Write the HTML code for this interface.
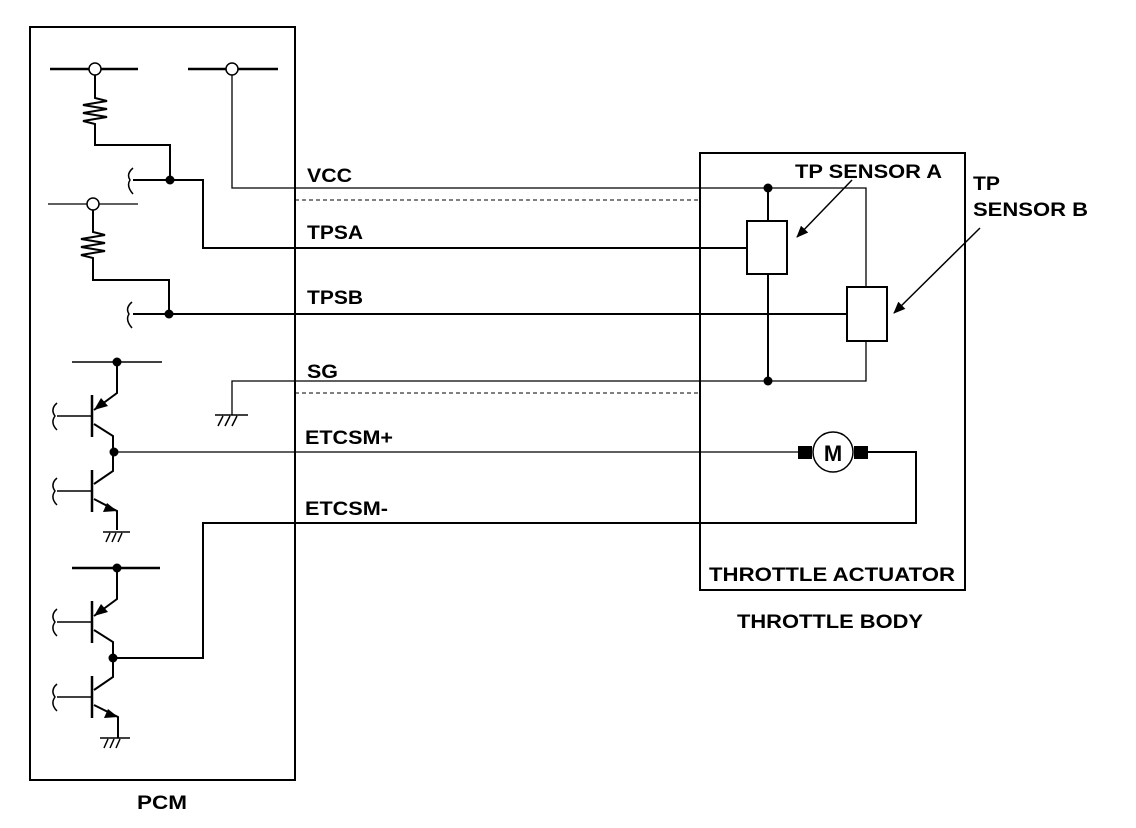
<!DOCTYPE html>
<html><head><style>body{margin:0;background:#fff}svg{display:block}text{font-family:"Liberation Sans",Arial,sans-serif;font-weight:bold;font-size:19px;fill:#000}</style></head>
<body>
<svg width="1136" height="828" viewBox="0 0 1136 828" xmlns="http://www.w3.org/2000/svg">
<defs><marker id="ar" markerWidth="12" markerHeight="10" refX="11" refY="5" orient="auto" markerUnits="userSpaceOnUse"><path d="M0,0L12,5L0,10Z" fill="#000"/></marker></defs>
<g fill="none" stroke="#000">
<rect x="30" y="27" width="265" height="753" stroke-width="2"/>
<rect x="700" y="153" width="265" height="437" stroke-width="2"/>
<path d="M50 69H138M188 69H278" stroke-width="2.5"/>
<path d="M48 204H138" stroke-width="1.2"/>
<circle cx="95" cy="69" r="6" fill="#fff" stroke-width="1.5"/>
<circle cx="232" cy="69" r="6" fill="#fff" stroke-width="1.5"/>
<circle cx="93" cy="204" r="6" fill="#fff" stroke-width="1.5"/>
<path d="M95 75V98L107 101L83 105L107 109L83 113L107 117L83 121L95 124V145H170V180H203V248H747" stroke-width="2"/>
<path d="M93 210V232L105 235L81 239L105 243L81 247L105 251L81 255L93 258V280H169V314H847" stroke-width="2"/>
<path d="M133 180H170M133 314H169" stroke-width="2"/>
<path d="M133 168Q126 174 130 180Q126 186 133 194M132 302Q125 308 129 314Q125 320 132 328" stroke-width="1.5"/>
<path d="M232 75V188H866V287M866 341V381H232V415" stroke-width="1.3"/>
<path d="M295 200H700M295 393H700" stroke-width="1" stroke-dasharray="4,3"/>
<path d="M215 415H248M218 426L223 416M225 426L230 416M232 426L237 416" stroke-width="1.5"/>
<path d="M768 188V221M768 274V381" stroke-width="2"/>
<rect x="747" y="221" width="40" height="53" stroke-width="2"/>
<rect x="847" y="287" width="40" height="54" stroke-width="2"/>
<path d="M72 362H162" stroke-width="1.5"/>
<path d="M117 362V393L94 410" stroke-width="2"/>
<path d="M92 395V437M92 470V512" stroke-width="2.5"/>
<path d="M57 416H92M57 491H92" stroke-width="1.5"/>
<path d="M94 424L113 436V471L94 484M94 499L117 511V530" stroke-width="2"/>
<path d="M103 532H130M106 542L110 533M112 542L116 533M118 542L122 533" stroke-width="1.5"/>
<path d="M114 452H798" stroke-width="1.3"/>
<path d="M72 568H160" stroke-width="2.5"/>
<path d="M117 568V599L94 616" stroke-width="2"/>
<path d="M92 601V643M92 676V718" stroke-width="2.5"/>
<path d="M57 622H92M57 697H92" stroke-width="1.5"/>
<path d="M94 630L113 642V677L94 690M94 705L118 717V738" stroke-width="2"/>
<path d="M100 738H130M104 748L108 739M110 748L114 739M116 748L120 739" stroke-width="1.5"/>
<path d="M113 658H203V523H916V452H868" stroke-width="2"/>
<path d="M57 403Q50 409 55 416Q50 423 57 430M57 478Q50 484 55 491Q50 498 57 505M57 609Q50 615 55 622Q50 629 57 636M57 684Q50 690 55 697Q50 704 57 711" stroke-width="1.5"/>
<circle cx="833" cy="452" r="20" fill="#fff" stroke-width="1.5"/>
<path d="M852 180L797 237" stroke-width="1.5" marker-end="url(#ar)"/>
<path d="M980 228L894 313" stroke-width="1.5" marker-end="url(#ar)"/>
</g>
<g fill="#000">
<circle cx="170" cy="180" r="4.5"/><circle cx="169" cy="314" r="4.5"/>
<circle cx="768" cy="188" r="4.5"/><circle cx="768" cy="381" r="4.5"/>
<circle cx="117" cy="362" r="4.5"/><circle cx="114" cy="452" r="4.5"/>
<circle cx="117" cy="568" r="4.5"/><circle cx="113" cy="658" r="4.5"/>
<rect x="798" y="446" width="14" height="13"/><rect x="854" y="446" width="14" height="13"/>
<path d="M94 410L101 398L108 406Z"/><path d="M94 616L101 604L108 612Z"/>
<path d="M117 511L103 512L107 503Z"/><path d="M118 717L104 718L108 709Z"/>
</g>
<text x="833" y="461" text-anchor="middle" style="font-size:22px">M</text>
<text x="307" y="182" textLength="45" lengthAdjust="spacingAndGlyphs">VCC</text>
<text x="307" y="239" textLength="56" lengthAdjust="spacingAndGlyphs">TPSA</text>
<text x="307" y="304" textLength="56" lengthAdjust="spacingAndGlyphs">TPSB</text>
<text x="307" y="378" textLength="31" lengthAdjust="spacingAndGlyphs">SG</text>
<text x="305" y="444" textLength="88" lengthAdjust="spacingAndGlyphs">ETCSM+</text>
<text x="305" y="515" textLength="83" lengthAdjust="spacingAndGlyphs">ETCSM-</text>
<text x="795" y="178" textLength="147" lengthAdjust="spacingAndGlyphs">TP SENSOR A</text>
<text x="973" y="190" textLength="27" lengthAdjust="spacingAndGlyphs">TP</text>
<text x="973" y="216" textLength="115" lengthAdjust="spacingAndGlyphs">SENSOR B</text>
<text x="709" y="581" textLength="246" lengthAdjust="spacingAndGlyphs">THROTTLE ACTUATOR</text>
<text x="737" y="628" textLength="186" lengthAdjust="spacingAndGlyphs">THROTTLE BODY</text>
<text x="137" y="809" textLength="50" lengthAdjust="spacingAndGlyphs">PCM</text>
</svg>
</body></html>
